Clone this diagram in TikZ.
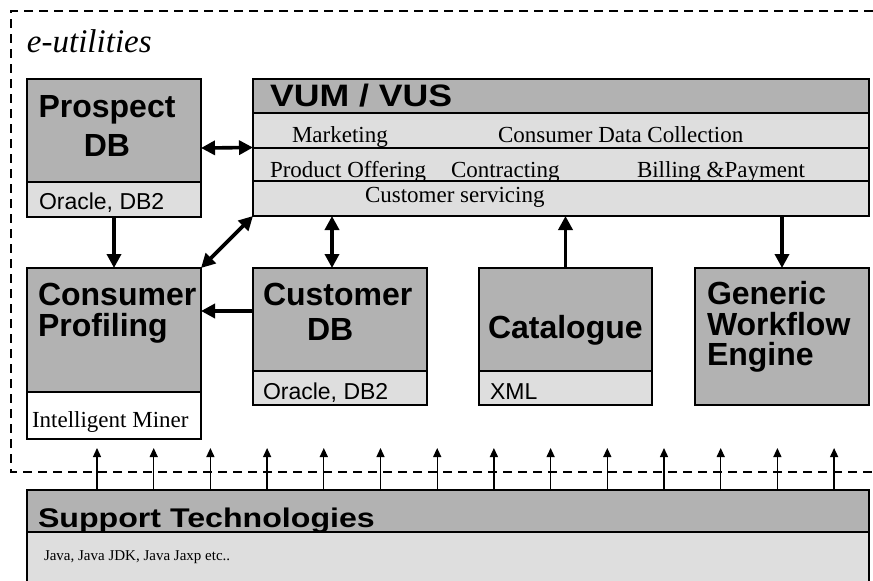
\documentclass[tikz,border=0pt]{standalone}
\usepackage{graphicx}
\usepackage{fontspec}
\setmainfont{Liberation Serif}
\setsansfont{Liberation Sans}
\usetikzlibrary{arrows.meta}
\definecolor{hdr}{gray}{0.70}
\definecolor{lt}{gray}{0.87}
\newcommand\hbf{\sffamily\bfseries\fontsize{32}{34}\selectfont}
\newcommand\smsf{\sffamily\fontsize{23}{25}\selectfont}
\newcommand\serT{\rmfamily\fontsize{23}{25}\selectfont}
\begin{document}
\begin{tikzpicture}[x=1pt,y=-1pt,
  box/.style={draw=black, line width=1.8pt, inner sep=0pt, outer sep=0pt, anchor=north west},
  txt/.style={inner sep=0pt, outer sep=0pt, anchor=base west},
  ctxt/.style={inner sep=0pt, outer sep=0pt, anchor=base},
  big/.style={line width=3.6pt, {Triangle[length=14pt,width=14pt]}-{Triangle[length=14pt,width=14pt]}},
  bigto/.style={line width=3.6pt, -{Triangle[length=14pt,width=14pt]}},
  small/.style={line width=1.3pt, -{Triangle[length=9pt,width=8pt]}},
  bound/.style={line width=2.8pt, dash pattern=on 9pt off 6pt}
]
\useasboundingbox[fill=white] (0,0) rectangle (873,581);

% dashed boundary
\coordinate (dTR) at (873,11);
\coordinate (dTL) at (11,11);
\coordinate (dBL) at (11,472);
\coordinate (dBR) at (873,472);
\draw[bound] (dTR) -- (dTL) -- (dBL) -- (dBR);

\node[txt] (title) at (27,52) {\rmfamily\itshape\fontsize{33}{35}\selectfont e-utilities};

% Prospect DB
\node[box, fill=lt, minimum width=174pt, minimum height=138pt] (prosp) at (27,79) {};
\node[box, fill=hdr, minimum width=174pt, minimum height=103pt] (prospH) at (27,79) {};
\node[ctxt] (tProsp1) at (107,117) {\hbf Prospect};
\node[ctxt] (tProsp2) at (107,156) {\hbf DB};
\node[txt] (tProsp3) at (39,209) {\smsf Oracle, DB2};

% VUM / VUS
\node[box, fill=lt, minimum width=616pt, minimum height=137pt] (vum) at (253,79) {};
\node[box, fill=hdr, minimum width=616pt, minimum height=34pt] (vumH) at (253,79) {};
\node[box, fill=lt, minimum width=616pt, minimum height=35pt] (vumA) at (253,113) {};
\node[box, fill=lt, minimum width=616pt, minimum height=33pt] (vumB) at (253,148) {};
\node[box, fill=lt, minimum width=616pt, minimum height=35pt] (vumC) at (253,181) {};
\node[txt] (tVum) at (270,106) {\scalebox{1.15}[1]{\sffamily\bfseries\fontsize{31}{33}\selectfont VUM / VUS}};
\node[txt] (tMark) at (292,142) {\serT Marketing};
\node[txt] (tCdc) at (498,142) {\serT Consumer Data Collection};
\node[txt] (tProd) at (270,177) {\serT Product Offering};
\node[txt] (tContr) at (451,177) {\serT Contracting};
\node[txt] (tBill) at (637,177) {\serT Billing \&Payment};
\node[txt] (tServ) at (365,202) {\serT Customer servicing};

% Consumer Profiling
\node[box, fill=white, minimum width=174pt, minimum height=171pt] (cons) at (27,268) {};
\node[box, fill=hdr, minimum width=174pt, minimum height=124pt] (consH) at (27,268) {};
\node[txt] (tCons1) at (38,305) {\hbf Consumer};
\node[txt] (tCons2) at (38,336) {\hbf Profiling};
\node[txt] (tCons3) at (32,427) {\serT Intelligent Miner};

% Customer DB
\node[box, fill=lt, minimum width=174pt, minimum height=137pt] (cust) at (253,268) {};
\node[box, fill=hdr, minimum width=174pt, minimum height=103pt] (custH) at (253,268) {};
\node[txt] (tCust1) at (263,305) {\hbf Customer};
\node[txt] (tCust2) at (307,340) {\hbf DB};
\node[txt] (tCust3) at (263,399) {\smsf Oracle, DB2};

% Catalogue
\node[box, fill=lt, minimum width=173pt, minimum height=137pt] (cat) at (479,268) {};
\node[box, fill=hdr, minimum width=173pt, minimum height=103pt] (catH) at (479,268) {};
\node[txt] (tCat1) at (488,338) {\hbf Catalogue};
\node[txt] (tCat2) at (490,399) {\smsf XML};

% Generic Workflow Engine
\node[box, fill=hdr, minimum width=174pt, minimum height=137pt] (gwe) at (695,268) {};
\node[txt] (tGwe1) at (707,304) {\hbf Generic};
\node[txt] (tGwe2) at (707,335) {\hbf Workflow};
\node[txt] (tGwe3) at (707,365) {\hbf Engine};

% Support Technologies
\node[box, fill=lt, minimum width=842pt, minimum height=96pt] (sup) at (27,490) {};
\node[box, fill=hdr, minimum width=842pt, minimum height=42pt] (supH) at (27,490) {};
\node[txt] (tSup1) at (38,527) {\scalebox{1.19}[1]{\sffamily\bfseries\fontsize{27}{29}\selectfont Support Technologies}};
\node[txt] (tSup2) at (44,560) {\rmfamily\fontsize{15}{17}\selectfont Java, Java JDK, Java Jaxp etc..};

% connectors
\draw[big] (prosp.east) -- (vum.west);
\draw[bigto] (prosp.south) -- (cons.north);
\draw[big] (vum.south west) -- (cons.north east);
\coordinate (cx) at (332,0);
\draw[big] (vum.south -| cx) -- (cust.north -| cx);
\draw[bigto] (cat.north) -- (vum.south -| cat.north);
\draw[bigto] (vum.south -| gwe.north) -- (gwe.north);
\coordinate (cy) at (0,311);
\draw[bigto] (cust.west |- cy) -- (cons.east |- cy);

\foreach \i in {0,...,13} {
  \coordinate (s\i) at ({97+56.7*\i},448);
  \draw[small] (sup.north -| s\i) -- (s\i);
}
\end{tikzpicture}
\end{document}
